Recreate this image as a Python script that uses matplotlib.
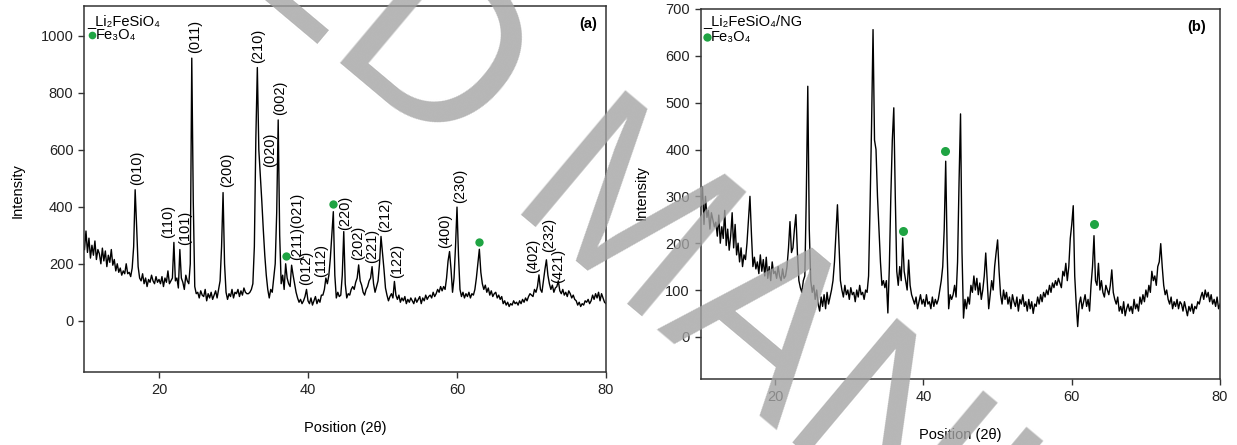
import numpy as np
import matplotlib
matplotlib.use("Agg")
import matplotlib.pyplot as plt

plt.rcParams['font.family'] = ['Liberation Sans', 'DejaVu Sans']

# scan: 10-80 deg 2theta, 0.2 deg step
scan_start, scan_stop, scan_step = 10.0, 80.0, 0.2

# Li2FeSiO4 (panel a)
intensity_a = [
    250, 315, 240, 290, 220, 265, 230, 280, 215, 250,
    235, 200, 255, 210, 245, 190, 230, 205, 250, 195,
    215, 175, 200, 170, 185, 160, 175, 165, 200, 165,
    170, 155, 185, 260, 460, 330, 190, 150, 140, 165,
    130, 150, 120, 145, 135, 160, 140, 130, 155, 135,
    145, 130, 155, 120, 150, 135, 175, 130, 140, 150,
    275, 140, 150, 115, 250, 150, 135, 110, 160, 140,
    130, 200, 922, 420, 120, 95, 100, 80, 105, 90,
    85, 110, 70, 95, 80, 100, 75, 90, 105, 80,
    110, 140, 260, 450, 200, 100, 75, 95, 85, 110,
    80, 100, 95, 110, 85, 105, 90, 115, 100, 95,
    95, 100, 110, 130, 260, 640, 889, 600, 510, 420,
    320, 230, 160, 110, 80, 110, 100, 150, 200, 380,
    705, 300, 130, 160, 110, 200, 150, 130, 120, 195,
    160, 130, 100, 80, 65, 75, 60, 70, 85, 110,
    70, 60, 80, 55, 70, 85, 60, 75, 65, 90,
    90, 110, 150, 130, 160, 220, 300, 383, 160, 80,
    100, 85, 90, 160, 313, 130, 80, 95, 90, 110,
    120, 110, 135, 150, 196, 140, 125, 100, 90, 110,
    120, 140, 150, 190, 130, 100, 120, 140, 200, 296,
    240, 180, 115, 90, 70, 85, 95, 80, 138, 90,
    75, 90, 65, 80, 70, 85, 60, 75, 65, 80,
    70, 60, 80, 65, 75, 85, 60, 80, 70, 90,
    75, 85, 90, 80, 100, 85, 95, 110, 100, 120,
    105, 120, 110, 150, 210, 243, 180, 100, 150, 260,
    399, 230, 110, 85, 100, 80, 95, 85, 100, 80,
    95, 90, 110, 150, 200, 251, 170, 130, 110, 125,
    100, 115, 90, 105, 85, 95, 100, 80, 90, 75,
    85, 60, 70, 55, 65, 50, 60, 55, 70, 60,
    65, 55, 70, 60, 75, 65, 80, 70, 85, 95,
    90, 85, 110, 100, 120, 161, 110, 100, 140, 180,
    214, 160, 130, 110, 125, 100, 115, 120, 140, 105,
    95, 110, 90, 100, 85, 105, 95, 80, 90, 75,
    70, 55, 65, 50, 60, 55, 70, 65, 75, 60,
    70, 90, 75, 95, 80, 100, 70, 95, 80, 65,
    60,
]

# Li2FeSiO4/NG (panel b)
intensity_b = [
    280, 320, 240, 300, 255, 270, 230, 265, 250, 235,
    245, 215, 260, 200, 235, 210, 270, 195, 230, 185,
    215, 265, 190, 240, 175, 200, 160, 190, 150, 175,
    165, 200, 250, 300, 220, 150, 170, 145, 160, 135,
    175, 140, 165, 130, 170, 125, 150, 120, 160, 135,
    140, 125, 150, 130, 120, 145, 125, 130, 150, 190,
    246, 180, 190, 230, 261, 180, 120, 105, 95, 120,
    130, 300, 535, 230, 120, 95, 110, 80, 100, 70,
    55, 85, 65, 90, 60, 95, 70, 85, 100, 120,
    160, 220, 282, 200, 120, 100, 85, 110, 90, 100,
    80, 105, 90, 95, 75, 100, 85, 110, 90, 95,
    80, 100, 95, 130, 280, 450, 656, 420, 400, 300,
    230, 160, 110, 120, 105, 120, 51, 150, 300, 420,
    489, 300, 140, 110, 150, 120, 211, 140, 120, 100,
    164, 110, 90, 80, 70, 85, 60, 75, 90, 70,
    80, 65, 90, 70, 75, 60, 85, 65, 80, 70,
    80, 100, 120, 150, 230, 375, 180, 60, 90, 80,
    90, 110, 85, 160, 330, 476, 180, 40, 80, 60,
    85, 70, 110, 95, 130, 100, 125, 90, 115, 80,
    100, 130, 179, 120, 60, 90, 120, 100, 150, 180,
    207, 140, 90, 70, 100, 80, 95, 70, 85, 60,
    90, 75, 65, 85, 55, 80, 70, 90, 65, 75,
    55, 80, 60, 75, 50, 70, 65, 85, 70, 90,
    75, 95, 85, 100, 90, 110, 95, 115, 105, 120,
    110, 125, 115, 105, 140, 130, 157, 120, 150, 210,
    240, 280, 130, 70, 22, 70, 85, 60, 75, 90,
    65, 80, 55, 110, 150, 216, 120, 110, 157, 100,
    120, 95, 85, 110, 100, 90, 110, 143, 95, 80,
    70, 85, 55, 65, 50, 75, 45, 60, 70, 55,
    65, 50, 80, 60, 70, 55, 85, 70, 90, 75,
    100, 85, 110, 95, 140, 120, 130, 110, 150, 160,
    199, 150, 110, 90, 100, 80, 70, 85, 60, 75,
    65, 80, 60, 75, 70, 55, 75, 60, 45, 65,
    55, 70, 50, 65, 60, 75, 70, 85, 95, 80,
    100, 85, 95, 75, 90, 70, 80, 65, 85, 60,
    70,
]

hkl_labels = ["(010)", "(110)", "(101)", "(011)", "(200)", "(210)", "(020)",
              "(002)", "(211)(021)", "(012)", "(112)", "(220)", "(202)",
              "(221)", "(212)", "(122)", "(400)", "(230)", "(402)", "(232)",
              "(421)"]
hkl_x = [17.0, 21.25, 23.5, 24.8, 29.1, 33.3, 34.9, 36.2, 38.6, 39.8, 41.8,
         45.0, 46.75, 48.55, 50.3, 51.9, 58.4, 60.4, 70.25, 72.3, 73.6]
hkl_y = [477, 291, 267, 940, 470, 905, 541, 723, 215, 126, 155, 319, 214,
         202, 313, 150, 255, 413, 167, 243, 132]

fe3o4_x_a = [37.05, 43.3, 62.9]
fe3o4_y_a = [228, 410, 277]
fe3o4_x_b = [37.3, 42.97, 62.97]
fe3o4_y_b = [227, 396, 241]

green = '#1fa443'
fs = 10.5

two_theta = np.linspace(scan_start, scan_stop, len(intensity_a))

fig = plt.figure(figsize=(12.37, 4.45), dpi=100)
ax1 = fig.add_axes([0.0683, 0.164, 0.4216, 0.8225])
ax2 = fig.add_axes([0.5667, 0.1483, 0.4196, 0.8315])


def style(ax, ylim, yticks):
    ax.set_xlim(10, 80)
    ax.set_ylim(*ylim)
    ax.set_xticks([20, 40, 60, 80])
    ax.set_yticks(yticks)
    for s in ax.spines.values():
        s.set_linewidth(1.1)
        s.set_color('#333333')
    ax.tick_params(direction='out', length=4, width=1.0, colors='#333333',
                   labelsize=fs, labelcolor='#222222', pad=4)
    ax.set_xlabel('Position (2θ)', fontsize=fs)
    ax.set_ylabel('Intensity', fontsize=fs)


ax1.plot(two_theta, intensity_a, color='black', lw=1.0)
style(ax1, (-180, 1105), [0, 200, 400, 600, 800, 1000])
ax1.xaxis.set_label_coords(0.5, -0.135)
ax1.yaxis.set_label_coords(-0.115, 0.497)
for lab, x, y in zip(hkl_labels, hkl_x, hkl_y):
    ax1.text(x, y, lab, rotation=90, ha='center', va='bottom', fontsize=fs)
ax1.plot(fe3o4_x_a, fe3o4_y_a, 'o', color=green, ms=6, mec='none')
ax1.text(0.006, 0.959, '_Li₂FeSiO₄', transform=ax1.transAxes,
         fontsize=fs, va='center', ha='left')
ax1.plot([0.0144], [0.921], 'o', color=green, ms=5.5, mec='none',
         transform=ax1.transAxes)
ax1.text(0.022, 0.921, 'Fe₃O₄', transform=ax1.transAxes,
         fontsize=fs, va='center', ha='left')
ax1.text(0.9655, 0.951, '(a)', transform=ax1.transAxes, fontsize=fs,
         fontweight='bold', ha='center', va='center')

ax2.plot(two_theta, intensity_b, color='black', lw=1.0)
style(ax2, (-90, 700), [0, 100, 200, 300, 400, 500, 600, 700])
ax2.xaxis.set_label_coords(0.5, -0.133)
ax2.yaxis.set_label_coords(-0.1, 0.503)
ax2.plot(fe3o4_x_b, fe3o4_y_b, 'o', color=green, ms=6.5, mec='none')
ax2.text(0.004, 0.9676, '_Li₂FeSiO₄/NG', transform=ax2.transAxes,
         fontsize=fs, va='center', ha='left')
ax2.plot([0.0116], [0.924], 'o', color=green, ms=6, mec='none',
         transform=ax2.transAxes)
ax2.text(0.018, 0.924, 'Fe₃O₄', transform=ax2.transAxes,
         fontsize=fs, va='center', ha='left')
ax2.text(0.9557, 0.951, '(b)', transform=ax2.transAxes, fontsize=fs,
         fontweight='bold', ha='center', va='center')

# watermark across both panels
fig.text(0.505, 0.50, 'ACCEPTED MANUSCRIPT', rotation=-40, fontsize=170,
         color='#a4a4a4', ha='center', va='center', alpha=0.8, zorder=10)

fig.savefig('out.png', dpi=100)
